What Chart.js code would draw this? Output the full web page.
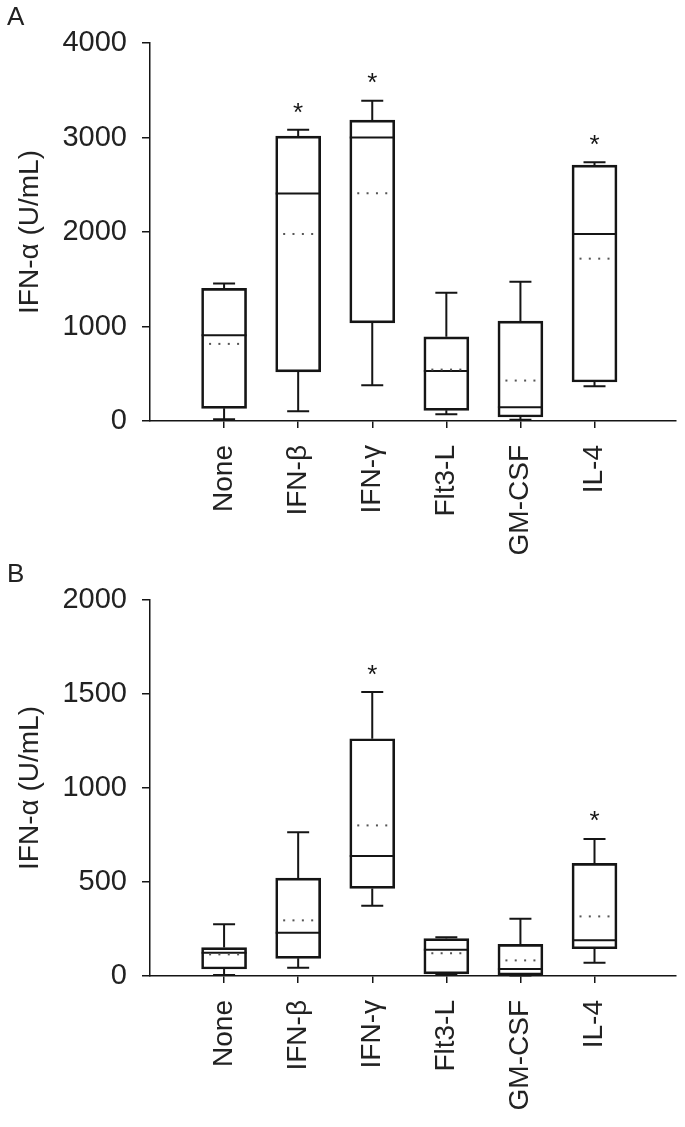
<!DOCTYPE html>
<html>
<head>
<meta charset="utf-8">
<script src="https://cdn.jsdelivr.net/npm/chart.js@4.4.1/dist/chart.umd.min.js"></script>
<style>
  body { margin: 0; background: #fff; }
  .panel { position: absolute; left: 0; width: 685px; }
  .tag { position: absolute; left: 7px; font: 26px 'Liberation Sans', Arial, sans-serif; line-height: 26px; color: #222; }
</style>
</head>
<body>
<div class="panel" style="top:0;height:557px"><canvas id="chartA" width="685" height="557"></canvas></div>
<div class="panel" style="top:557px;height:570px"><canvas id="chartB" width="685" height="570"></canvas></div>
<div class="tag" style="top:3px">A</div>
<div class="tag" style="top:560px">B</div>
<script>
// Categories shared by both panels
const categories = ['None', 'IFN-β', 'IFN-γ', 'Flt3-L', 'GM-CSF', 'IL-4'];

// Panel A values (U/mL)
const minA    = [18, 102, 378, 71, 14, 368];
const q1A     = [134, 520, 1039, 113, 42, 413];
const medianA = [908, 2407, 3000, 530, 145, 1979];
const q3A     = [1403, 3014, 3184, 891, 1057, 2707];
const maxA    = [1456, 3082, 3389, 1357, 1474, 2739];
const meanA   = [816, 1979, 2410, 544, 428, 1718];
const starA   = [null, 3336, 3647, null, null, 3000];
const yTicksA = [0, 1000, 2000, 3000, 4000];

// Panel B values (U/mL)
const minB    = [5, 44, 374, 5, 2, 71];
const q1B     = [37, 94, 466, 11, 5, 145];
const medianB = [124, 230, 638, 140, 37, 190];
const q3B     = [151, 521, 1262, 199, 168, 599];
const maxB    = [275, 764, 1510, 206, 305, 729];
const meanB   = [115, 296, 801, 121, 83, 317];
const starB   = [null, null, 1640, null, null, 862];
const yTicksB = [0, 500, 1000, 1500, 2000];

const FONT = "'Liberation Sans', Arial, Helvetica, sans-serif";
const INK = '#151515';

// Whiskers, medians, mean dots and asterisks on top of the boxes
const boxExtras = {
  id: 'boxExtras',
  afterDatasetsDraw(chart, args, opts) {
    const ctx = chart.ctx;
    const xs = chart.scales.x;
    const ys = chart.scales.y;
    const half = 22.5, cap = 11;
    ctx.save();
    ctx.strokeStyle = INK;
    ctx.lineWidth = 2;
    categories.forEach((c, i) => {
      const px = xs.getPixelForValue(i);
      const yMin = ys.getPixelForValue(opts.min[i]);
      const yQ1 = ys.getPixelForValue(opts.q1[i]);
      const yMed = ys.getPixelForValue(opts.median[i]);
      const yQ3 = ys.getPixelForValue(opts.q3[i]);
      const yMax = ys.getPixelForValue(opts.max[i]);
      ctx.beginPath();
      // upper whisker
      ctx.moveTo(px, yQ3); ctx.lineTo(px, yMax);
      ctx.moveTo(px - cap, yMax); ctx.lineTo(px + cap, yMax);
      // lower whisker
      ctx.moveTo(px, yQ1); ctx.lineTo(px, yMin);
      ctx.moveTo(px - cap, yMin); ctx.lineTo(px + cap, yMin);
      // median
      ctx.moveTo(px - half, yMed); ctx.lineTo(px + half, yMed);
      ctx.stroke();

      // mean as a dotted line
      const yMean = ys.getPixelForValue(opts.mean[i]);
      ctx.fillStyle = '#555';
      [-14, -4.7, 4.7, 14].forEach(dx => {
        ctx.fillRect(px + dx - 1, yMean - 1, 2, 2);
      });

      if (opts.star[i] != null) {
        ctx.fillStyle = INK;
        ctx.font = '26px ' + FONT;
        ctx.textAlign = 'center';
        ctx.textBaseline = 'alphabetic';
        ctx.fillText('*', px, ys.getPixelForValue(opts.star[i]) + 15);
      }
    });
    ctx.restore();
  }
};

function makePanel(id, d, yMax, yTicks, xHeight) {
  return new Chart(document.getElementById(id), {
    type: 'bar',
    data: {
      datasets: [{
        data: categories.map((c, i) => ({ x: i, y: [d.q1[i], d.q3[i]] })),
        barThickness: 45,
        backgroundColor: 'rgba(255,255,255,0)',
        borderColor: INK,
        borderWidth: 2,
        borderSkipped: false
      }]
    },
    options: {
      responsive: false,
      animation: false,
      layout: { padding: { top: 43, right: 9, left: 0, bottom: 0 } },
      plugins: {
        legend: { display: false },
        tooltip: { enabled: false },
        boxExtras: d
      },
      scales: {
        x: {
          type: 'linear',
          offset: false,
          min: -1,
          max: 6.1,
          afterBuildTicks: s => { s.ticks = categories.map((c, i) => ({ value: i })); },
          afterFit: s => { s.height = xHeight; },
          ticks: {
            autoSkip: false,
            minRotation: 90,
            maxRotation: 90,
            padding: 17,
            color: '#222',
            font: { family: FONT, size: 28 },
            callback: v => categories[v]
          },
          grid: { offset: false, drawOnChartArea: false, tickLength: 7, color: INK, lineWidth: 1.5 },
          border: { color: INK, width: 1.5 }
        },
        y: {
          min: 0,
          max: yMax,
          afterBuildTicks: s => { s.ticks = yTicks.map(v => ({ value: v })); },
          afterFit: s => { s.width = 150; },
          ticks: { padding: 15, color: '#222', font: { family: FONT, size: 29 }, callback: v => String(v) },
          grid: { drawOnChartArea: false, tickLength: 8, color: INK, lineWidth: 1.5 },
          border: { color: INK, width: 1.5 },
          title: {
            display: true,
            text: 'IFN-α (U/mL)',
            color: '#222',
            font: { family: FONT, size: 28 },
            padding: { top: 13, bottom: 0 }
          }
        }
      }
    },
    plugins: [boxExtras]
  });
}

makePanel('chartA', { min: minA, q1: q1A, median: medianA, q3: q3A, max: maxA, mean: meanA, star: starA }, 4000, yTicksA, 136);
makePanel('chartB', { min: minB, q1: q1B, median: medianB, q3: q3B, max: maxB, mean: meanB, star: starB }, 2000, yTicksB, 151);
</script>
</body>
</html>
